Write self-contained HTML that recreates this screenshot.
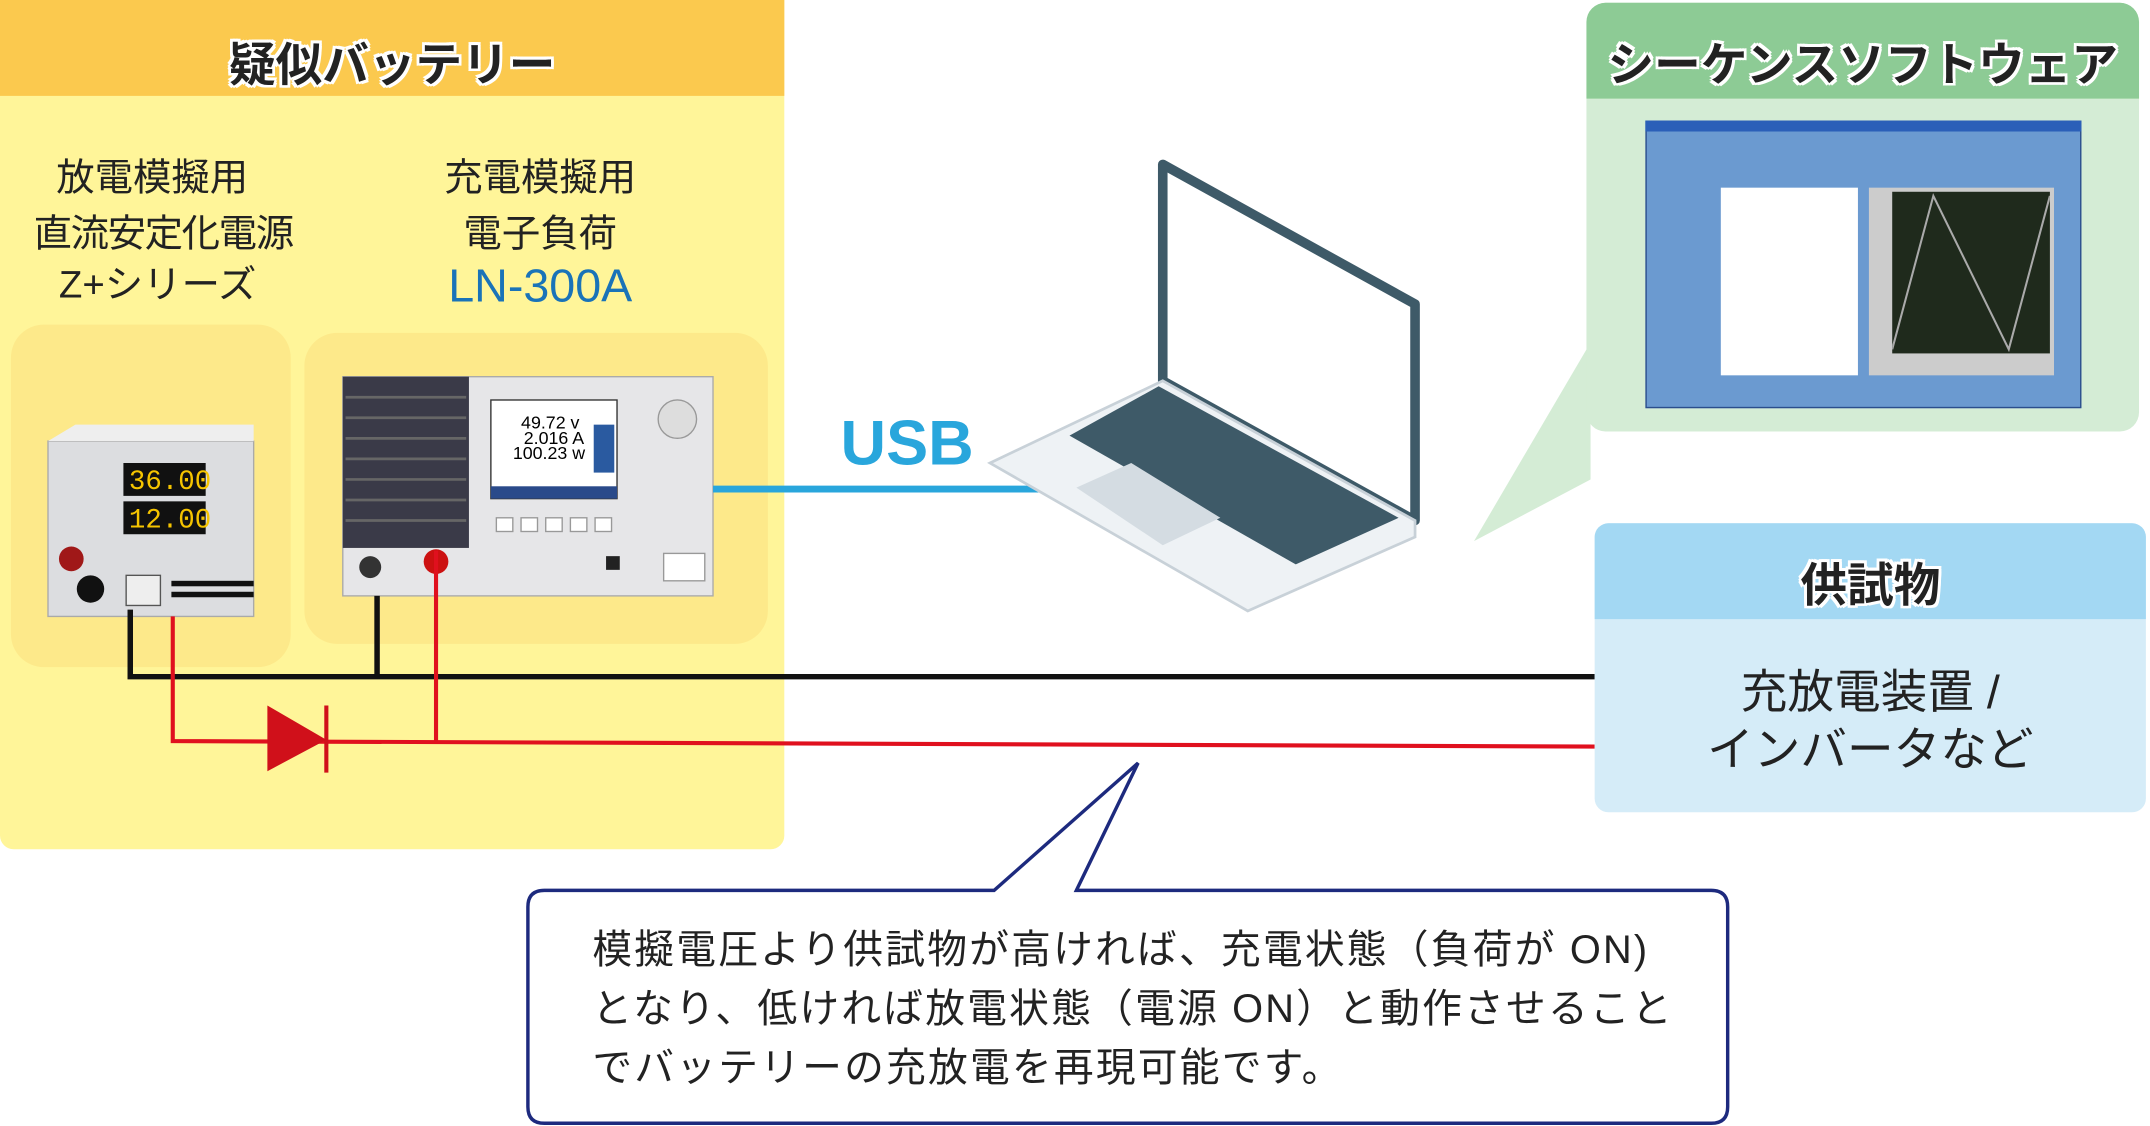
<!DOCTYPE html>
<html><head><meta charset="utf-8"><style>
html,body{margin:0;padding:0;width:2150px;height:1126px;overflow:hidden;background:#fff}
#w{position:absolute;left:0;top:0;width:1568px;height:822px;transform:scale(1.37117,1.36983);transform-origin:0 0;font-family:"Liberation Sans","Noto Sans CJK JP",sans-serif}
.a{position:absolute}
.t{position:absolute;white-space:nowrap;color:#222}
.title{font-weight:bold;color:#222;text-shadow:2px 2px 0 #fff,-2px -2px 0 #fff,2px -2px 0 #fff,-2px 2px 0 #fff,0 2px 0 #fff,2px 0 0 #fff,0 -2px 0 #fff,-2px 0 0 #fff}
</style></head><body><div id="w">
<div class="a" style="left:0;top:0;width:572px;height:620px;background:#fff599;border-radius:0 0 10px 10px"></div>
<div class="a" style="left:0;top:0;width:572px;height:70px;background:#fbc94e"></div>
<div class="t title" style="left:0;width:572px;text-align:center;top:20px;font-size:34px">疑似バッテリー</div>
<div class="a" style="left:8px;top:237px;width:204px;height:250px;background:#fde98a;border-radius:24px"></div>
<div class="a" style="left:222px;top:243px;width:338px;height:227px;background:#fde98a;border-radius:24px"></div>
<div class="t" style="left:11px;width:200px;text-align:center;top:108px;font-size:28px">放電模擬用</div>
<div class="t" style="left:19px;width:200px;text-align:center;top:149px;font-size:28px;letter-spacing:-1px">直流安定化電源</div>
<div class="t" style="left:15px;width:200px;text-align:center;top:186px;font-size:28px">Z+シリーズ</div>
<div class="t" style="left:294px;width:200px;text-align:center;top:108px;font-size:28px">充電模擬用</div>
<div class="t" style="left:294px;width:200px;text-align:center;top:149px;font-size:28px">電子負荷</div>
<div class="t" style="left:294px;width:200px;text-align:center;top:190px;font-size:34px;color:#1a73b8">LN-300A</div>

<svg class="a" style="left:0;top:0" width="1568" height="822">
<rect x="35" y="322" width="150" height="128" fill="#dcdde0" stroke="#aaa"/>
<polygon points="35,322 55,310 185,310 185,322" fill="#eee"/>
<rect x="90" y="338" width="60" height="24" fill="#111"/><text x="94" y="357" font-size="20" fill="#f5c400" font-family="Liberation Mono">36.00</text>
<rect x="90" y="366" width="60" height="24" fill="#111"/><text x="94" y="385" font-size="20" fill="#f5c400" font-family="Liberation Mono">12.00</text>
<circle cx="52" cy="408" r="9" fill="#a01818"/><circle cx="66" cy="430" r="10" fill="#111"/>
<rect x="92" y="420" width="25" height="22" fill="#eee" stroke="#555"/>
<rect x="125" y="424" width="60" height="4" fill="#111"/><rect x="125" y="432" width="60" height="4" fill="#111"/>
<rect x="250" y="275" width="270" height="160" fill="#e6e6e8" stroke="#aaa"/>
<rect x="250" y="275" width="92" height="125" fill="#3a3a48"/>
<g stroke="#666" stroke-width="2"><line x1="252" y1="290" x2="340" y2="290"/><line x1="252" y1="305" x2="340" y2="305"/><line x1="252" y1="320" x2="340" y2="320"/><line x1="252" y1="335" x2="340" y2="335"/><line x1="252" y1="350" x2="340" y2="350"/><line x1="252" y1="365" x2="340" y2="365"/><line x1="252" y1="380" x2="340" y2="380"/></g>
<rect x="358" y="292" width="92" height="72" fill="#fff" stroke="#333"/>
<text x="380" y="313" font-size="13">49.72 v</text><text x="382" y="324" font-size="13">2.016 A</text><text x="374" y="335" font-size="13">100.23 w</text>
<rect x="358" y="355" width="92" height="9" fill="#2a4a8a"/>
<rect x="433" y="310" width="15" height="35" fill="#2a5aa0"/>
<circle cx="494" cy="306" r="14" fill="#ddd" stroke="#999"/>
<g fill="#fff" stroke="#999"><rect x="362" y="378" width="12" height="10"/><rect x="380" y="378" width="12" height="10"/><rect x="398" y="378" width="12" height="10"/><rect x="416" y="378" width="12" height="10"/><rect x="434" y="378" width="12" height="10"/></g>
<circle cx="270" cy="414" r="8" fill="#333"/><circle cx="318" cy="410" r="9" fill="#c11"/>
<rect x="442" y="406" width="10" height="10" fill="#222"/><rect x="484" y="404" width="30" height="20" fill="#fff" stroke="#999"/>
<polyline points="95,445 95,494 1163,494" fill="none" stroke="#111" stroke-width="4"/>
<line x1="275" y1="435" x2="275" y2="494" stroke="#111" stroke-width="4"/>
<polyline points="126,450 126,541 1163,545" fill="none" stroke="#e0101e" stroke-width="3"/>
<line x1="318" y1="402" x2="318" y2="542" stroke="#e0101e" stroke-width="3"/>
<polygon points="195,515 238,540 195,563" fill="#d0101a"/>
<line x1="238" y1="515" x2="238" y2="564" stroke="#d0101a" stroke-width="3"/>
<line x1="520" y1="357" x2="762" y2="357" stroke="#29a6dc" stroke-width="5"/>
<polygon points="848,120 1032,222 1032,380 848,278" fill="#fff" stroke="#3e5a68" stroke-width="7" stroke-linejoin="round"/>
<polygon points="848,278 1032,380 1032,392 910,446 722,338" fill="#eef2f5" stroke="#c8d1d8" stroke-width="2"/>
<polygon points="845,282 1020,378 945,412 780,318" fill="#3e5a68"/>
<polygon points="785,356 825,338 890,378 848,398" fill="#d4dce2"/>
<polygon points="1160,250 1075,395 1160,350" fill="#d4ecd5"/>
<path d="M397,650 H725 L830,557 L785,650 H1248 Q1260,650 1260,662 V808 Q1260,820 1248,820 H397 Q385,820 385,808 V662 Q385,650 397,650 Z" fill="#fff" stroke="#1d2a7e" stroke-width="2.5"/>
</svg>
<div class="t" style="left:613px;top:296px;font-size:46px;font-weight:bold;color:#29a6dc">USB</div>

<div class="a" style="left:1157px;top:2px;width:403px;height:313px;background:#d4ecd5;border-radius:14px"></div>
<div class="a" style="left:1157px;top:2px;width:403px;height:70px;background:#8dcb95;border-radius:14px 14px 0 0"></div>
<div class="t title" style="left:1157px;width:403px;text-align:center;top:20px;font-size:34px">シーケンスソフトウェア</div>
<div class="a" style="left:1200px;top:88px;width:316px;height:208px;background:#6b9ad0;border:1px solid #2b4e8c"></div>
<div class="a" style="left:1200px;top:88px;width:318px;height:8px;background:#2b5fb8"></div>
<div class="a" style="left:1255px;top:137px;width:100px;height:137px;background:#fff"></div>
<div class="a" style="left:1363px;top:137px;width:135px;height:137px;background:#ccc"></div>
<div class="a" style="left:1380px;top:140px;width:115px;height:118px;background:#1f2a1c"></div>
<svg class="a" style="left:1380px;top:140px" width="115" height="118"><polyline points="0,115 30,3 85,115 115,3" fill="none" stroke="#aaa" stroke-width="1.5"/></svg>

<div class="a" style="left:1163px;top:382px;width:402px;height:211px;background:#d5ecf8;border-radius:10px"></div>
<div class="a" style="left:1163px;top:382px;width:402px;height:70px;background:#a3d8f3;border-radius:10px 10px 0 0"></div>
<div class="t title" style="left:1163px;width:402px;text-align:center;top:400px;font-size:34px">供試物</div>
<div class="t" style="left:1163px;width:402px;text-align:center;top:478px;font-size:34px">充放電装置 /</div>
<div class="t" style="left:1163px;width:402px;text-align:center;top:520px;font-size:34px">インバータなど</div>

<div class="t" style="left:432px;top:670px;font-size:29px;letter-spacing:1.6px">模擬電圧より供試物が高ければ、充電状態（負荷が ON)</div>
<div class="t" style="left:432px;top:713px;font-size:29px;letter-spacing:1.6px">となり、低ければ放電状態（電源 ON）と動作させること</div>
<div class="t" style="left:432px;top:756px;font-size:29px;letter-spacing:1.6px">でバッテリーの充放電を再現可能です。</div>
</div></body></html>
